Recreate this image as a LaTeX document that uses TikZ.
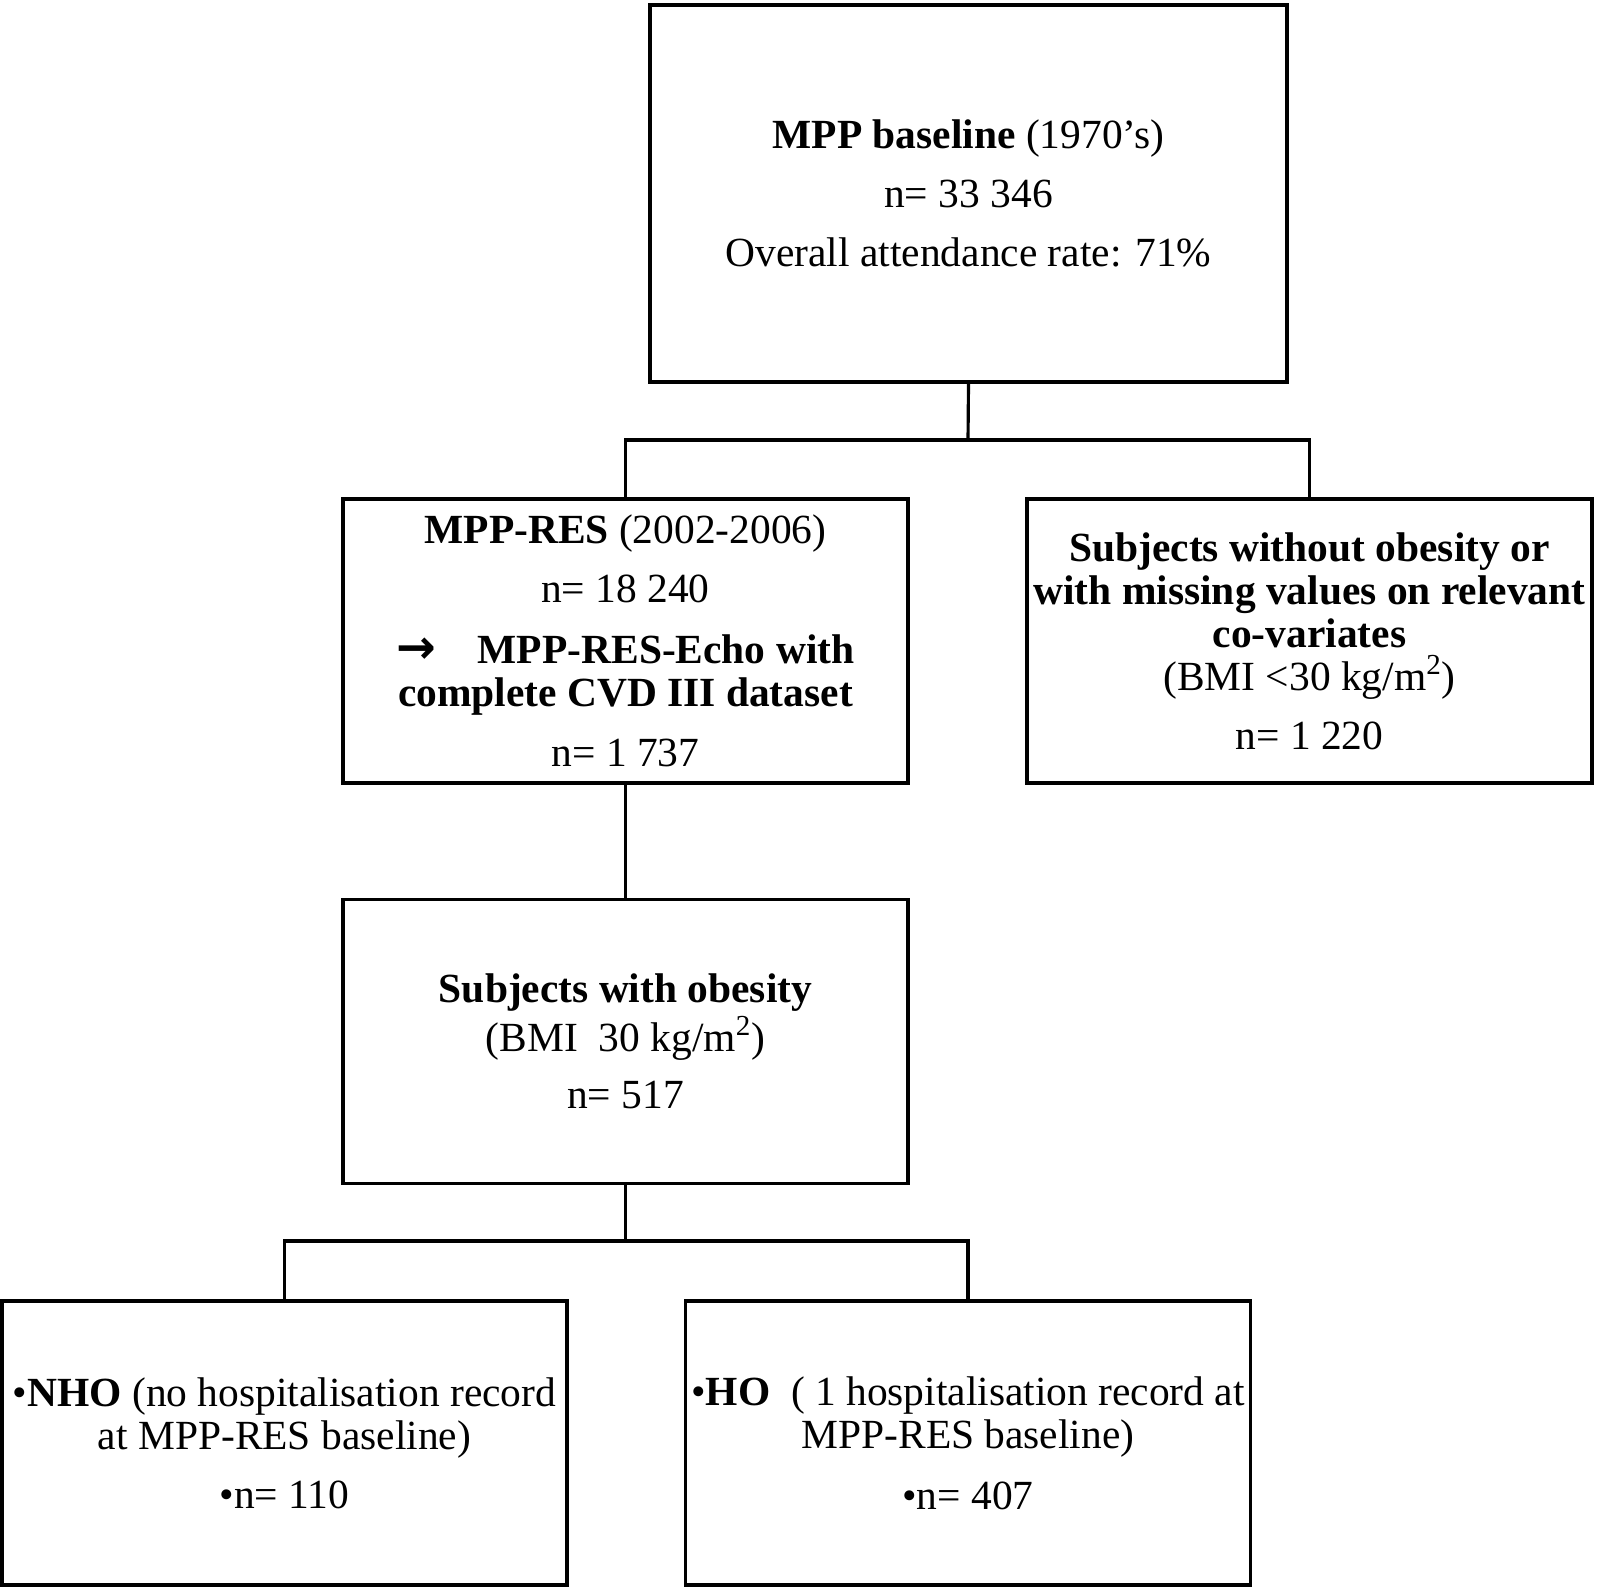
\documentclass[tikz,border=0pt]{standalone}
\usepackage{fontspec}
\setmainfont{Liberation Serif}
\newfontfamily\arrowfont{DejaVu Sans}
\usetikzlibrary{positioning}

\begin{document}
\begin{tikzpicture}[x=0.02cm,y=-0.02cm,
	box/.style={draw,line width=1.8pt,align=center,inner sep=0pt,
		font=\fontsize{23.6}{24.5}\selectfont},
	wide/.style={minimum width=11.3cm,minimum height=5.68cm},
	link/.style={line width=1.8pt}
	]
	\useasboundingbox (0,0) rectangle (1598,1587);

	\node[box,minimum width=12.74cm,minimum height=7.54cm] (base) at (968.5,193.5)
		{\textbf{MPP baseline} (1970’s)\\[9pt] n= 33 346\\[9pt] Overall attendance rate: 71\%};

	\node[box,wide] (res) at (625.5,641)
		{\textbf{MPP-RES} (2002-2006)\\[9pt] n= 18 240\\[10pt]
		\textbf{{\arrowfont\fontsize{27}{24.5}\selectfont →}\quad MPP-RES-Echo with}\\ \textbf{complete CVD III dataset}\\[10pt] n= 1 737};

	\node[box,wide] (excl) at (1309.5,641)
		{\textbf{Subjects without obesity or}\\ \textbf{with missing values on relevant}\\
		\textbf{co-variates}\\ (BMI <30 kg/m\textsuperscript{2})\\[9pt] n= 1 220};

	\node[box,wide] (obese) at (625.5,1041.5)
		{\textbf{Subjects with obesity}\\[2pt] (BMI\ \ 30 kg/m\textsuperscript{2})\\[8pt] n= 517};

	\node[box,wide] (nho) at (284.5,1443)
		{•\textbf{NHO} (no hospitalisation record\\ at MPP-RES baseline)\\[9pt] •n= 110};

	\node[box,wide] (ho) at (968,1443)
		{•\textbf{HO}\ \ ( 1 hospitalisation record at\\ MPP-RES baseline)\\[10pt] •n= 407};

	\coordinate (fork1) at (968,440);
	\coordinate (fork2) at (625.5,1241);

	\draw[link] (base.south) -- (fork1);
	\draw[link] (res.north) |- (fork1) -| (excl.north);

	\draw[link] (res.south) -- (obese.north);

	\draw[link] (obese.south) -- (fork2);
	\draw[link] (nho.north) |- (fork2) -| (ho.north);

\end{tikzpicture}
\end{document}
